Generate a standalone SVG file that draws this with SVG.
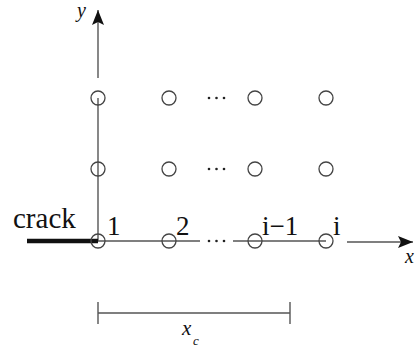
<svg xmlns="http://www.w3.org/2000/svg" width="419" height="352" viewBox="0 0 419 352">
<style>
.ln{stroke:#555;stroke-width:1.4;fill:none}
.nd{stroke:#444;stroke-width:1.3;fill:none}
.t{font-family:"Liberation Serif","Times New Roman",serif;fill:#111}
.it{font-style:italic}
.dot{fill:#222}
</style>
<defs>
<marker id="ah" markerWidth="16" markerHeight="12" refX="15" refY="6" orient="auto" markerUnits="userSpaceOnUse">
<path d="M0,0 L15,6 L0,12 L3,6 Z" fill="#111"/>
</marker>
</defs>
<g id="connectors">
<line class="ln" x1="98" y1="78" x2="98" y2="10" marker-end="url(#ah)"/>
<line class="ln" x1="98" y1="98" x2="98" y2="241"/>
<line class="ln" x1="98" y1="241" x2="200" y2="241"/>
<line class="ln" x1="233" y1="241" x2="326" y2="241"/>
<line class="ln" x1="347" y1="242" x2="413" y2="242" marker-end="url(#ah)"/>
<line x1="27" y1="241" x2="98" y2="241" stroke="#111" stroke-width="4.5"/>
<g id="dimension">
<line class="ln" x1="98" y1="313" x2="290" y2="313"/>
<line class="ln" x1="98" y1="302" x2="98" y2="324"/>
<line class="ln" x1="290" y1="302" x2="290" y2="324"/>
</g>
</g>
<g id="nodes">
<g id="n-r1c1"><circle class="nd" cx="98" cy="98" r="7"/></g>
<g id="n-r1c2"><circle class="nd" cx="169" cy="98" r="7"/></g>
<g id="n-r1c3"><circle class="nd" cx="255" cy="98" r="7"/></g>
<g id="n-r1c4"><circle class="nd" cx="326" cy="98" r="7"/></g>
<g id="n-r2c1"><circle class="nd" cx="98" cy="169" r="7"/></g>
<g id="n-r2c2"><circle class="nd" cx="169" cy="169" r="7"/></g>
<g id="n-r2c3"><circle class="nd" cx="255" cy="169" r="7"/></g>
<g id="n-r2c4"><circle class="nd" cx="326" cy="169" r="7"/></g>
<g id="n-1"><circle class="nd" cx="98" cy="241" r="7"/><text class="t" x="107" y="235" font-size="27">1</text></g>
<g id="n-2"><circle class="nd" cx="169" cy="241" r="7"/><text class="t" x="176" y="235" font-size="27">2</text></g>
<g id="n-im1"><circle class="nd" cx="255" cy="241" r="7"/><text class="t" x="262" y="235" font-size="27">i−1</text></g>
<g id="n-i"><circle class="nd" cx="326" cy="241" r="7"/><text class="t" x="333" y="235" font-size="27">i</text></g>
</g>
<g id="ellipses">
<circle class="dot" cx="209" cy="98" r="1.3"/><circle class="dot" cx="216.5" cy="98" r="1.3"/><circle class="dot" cx="224" cy="98" r="1.3"/>
<circle class="dot" cx="209" cy="169" r="1.3"/><circle class="dot" cx="216.5" cy="169" r="1.3"/><circle class="dot" cx="224" cy="169" r="1.3"/>
<circle class="dot" cx="209" cy="241" r="1.3"/><circle class="dot" cx="216.5" cy="241" r="1.3"/><circle class="dot" cx="224" cy="241" r="1.3"/>
</g>
<g id="labels">
<text class="t" x="13" y="228" font-size="29">crack</text>
<text class="t it" x="77" y="17" font-size="20">y</text>
<text class="t it" x="405" y="263" font-size="20">x</text>
<text class="t it" x="182" y="335" font-size="21">x</text>
<text class="t it" x="193" y="345" font-size="13">c</text>
</g>
</svg>
